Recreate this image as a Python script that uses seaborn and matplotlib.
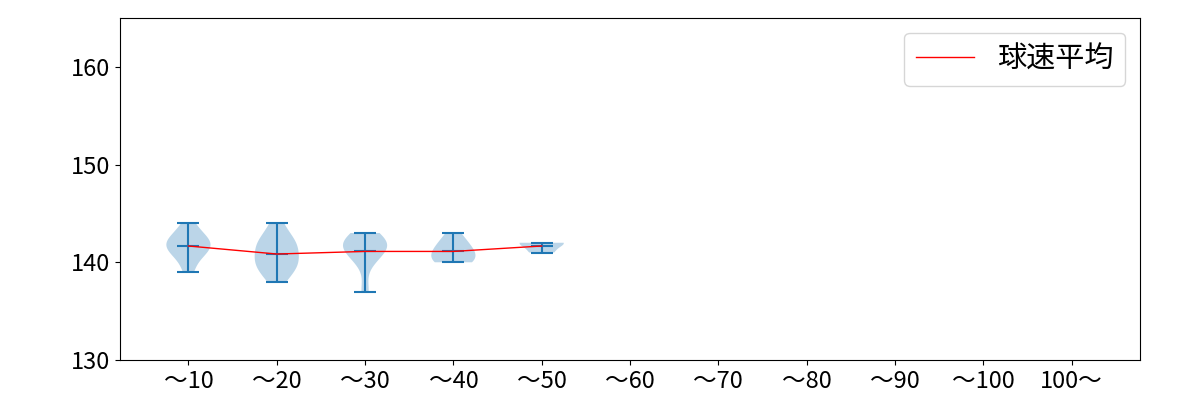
import numpy as np
import pandas as pd
import matplotlib
matplotlib.use("Agg")
import matplotlib.pyplot as plt
import seaborn as sns

plt.rcParams["font.family"] = ["Noto Sans CJK JP", "DejaVu Sans"]

bins = ["～10", "～20", "～30", "～40", "～50", "～60", "～70", "～80", "～90", "～100", "100～"]

# pitch speeds (km/h) per pitch-count bin
speed_10 = [139, 140, 141, 141, 141, 142, 142, 142, 142, 143, 143, 144]
speed_20 = [138, 139, 139, 140, 140, 140, 141, 141, 142, 142, 142, 143, 144]
speed_30 = [137, 140, 141, 141, 142, 142, 142, 142, 143]
speed_40 = [140, 140, 140, 141, 141, 141, 142, 142, 143]
speed_50 = [141, 142, 142]

samples = [speed_10, speed_20, speed_30, speed_40, speed_50]

fig, ax = plt.subplots(figsize=(12, 4), dpi=100)
fig.subplots_adjust(left=0.1, right=0.95, top=0.955, bottom=0.1)

positions = list(range(1, len(samples) + 1))
ax.violinplot(samples, positions=positions, showmeans=True)

mean_df = pd.DataFrame({"pos": positions, "mean": [np.mean(s) for s in samples]})
sns.lineplot(data=mean_df, x="pos", y="mean", color="red", lw=1, label="球速平均", ax=ax)

ax.set_xlim(0.225, 11.775)
ax.set_ylim(130, 165)
ax.set_yticks([130, 140, 150, 160])
ax.set_xticks(range(1, len(bins) + 1))
ax.set_xticklabels(bins)
ax.set_xlabel("")
ax.set_ylabel("")
ax.tick_params(labelsize=17)
ax.legend(loc="upper right", fontsize=21)

plt.savefig("out.png", dpi=100)
plt.close()
